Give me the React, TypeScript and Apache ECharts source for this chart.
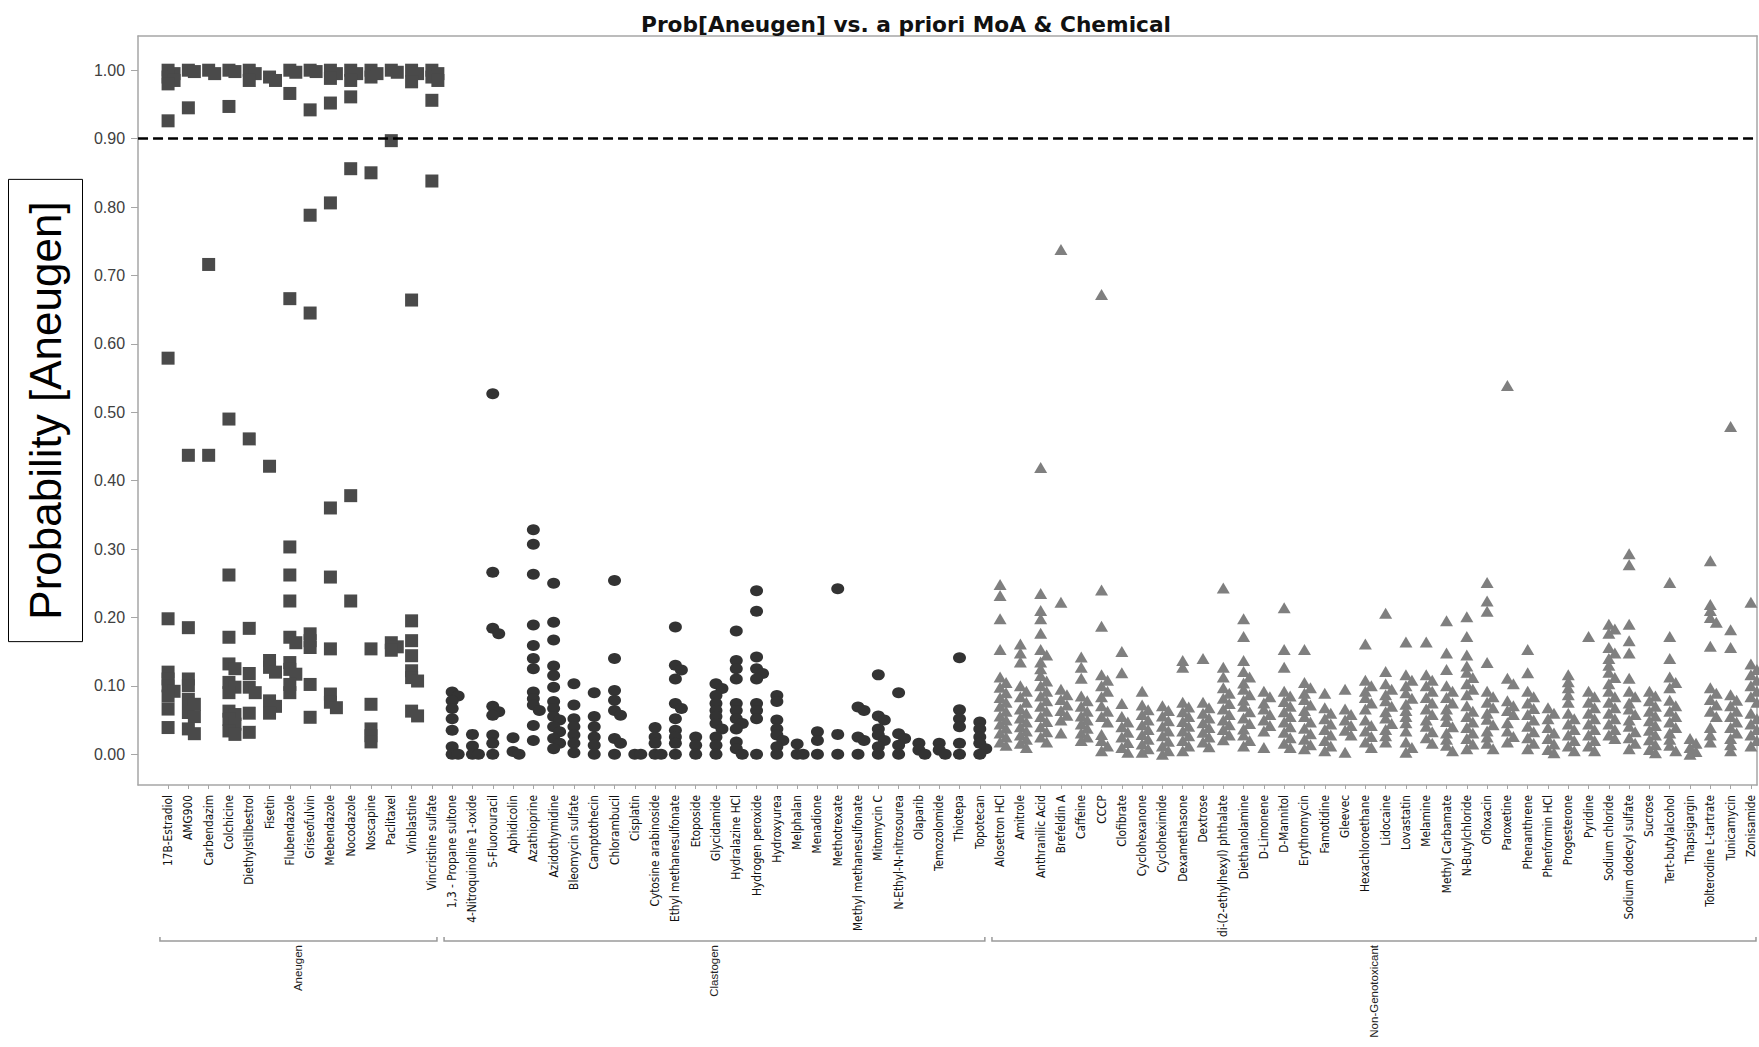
import React, { useEffect, useRef } from "react";
import * as echarts from "echarts";

const chartTitle = "Prob[Aneugen] vs. a priori MoA & Chemical";
const yTitle = "Probability [Aneugen]";
const groupNames = ["Aneugen", "Clastogen", "Non-Genotoxicant"];
const yTicks = [0, 0.1, 0.2, 0.3, 0.4, 0.5, 0.6, 0.7, 0.8, 0.9, 1.0];
const thresholdLine = 0.9;

const aneugenChemicals = [
  "17B-Estradiol", "AMG900", "Carbendazim", "Colchicine", "Diethylstilbestrol", "Fisetin",
  "Flubendazole", "Griseofulvin", "Mebendazole", "Nocodazole", "Noscapine", "Paclitaxel",
  "Vinblastine", "Vincristine sulfate",
];
const aneugenProb = [
  [1.0, 0.995, 0.99, 0.985, 0.98, 0.926, 0.579, 0.198, 0.12, 0.11, 0.1, 0.092, 0.085, 0.066, 0.039],
  [1.0, 0.998, 0.945, 0.437, 0.185, 0.11, 0.1, 0.08, 0.073, 0.061, 0.055, 0.037, 0.03],
  [1.0, 0.995, 0.716, 0.437],
  [1.0, 0.998, 0.947, 0.49, 0.262, 0.171, 0.132, 0.125, 0.105, 0.098, 0.09, 0.063, 0.058, 0.051, 0.044, 0.034, 0.029],
  [1.0, 0.995, 0.985, 0.461, 0.184, 0.118, 0.098, 0.09, 0.06, 0.032],
  [0.99, 0.985, 0.421, 0.137, 0.127, 0.12, 0.078, 0.07, 0.06],
  [1.0, 0.997, 0.966, 0.666, 0.303, 0.262, 0.224, 0.171, 0.163, 0.134, 0.124, 0.117, 0.102, 0.09],
  [1.0, 0.998, 0.942, 0.788, 0.645, 0.176, 0.166, 0.156, 0.102, 0.054],
  [1.0, 0.995, 0.988, 0.952, 0.806, 0.36, 0.259, 0.154, 0.088, 0.076, 0.068],
  [1.0, 0.995, 0.985, 0.961, 0.856, 0.378, 0.224],
  [1.0, 0.995, 0.99, 0.85, 0.154, 0.073, 0.037, 0.027, 0.018],
  [1.0, 0.997, 0.897, 0.163, 0.157, 0.152],
  [1.0, 0.995, 0.983, 0.664, 0.195, 0.166, 0.144, 0.122, 0.112, 0.107, 0.063, 0.056],
  [1.0, 0.995, 0.99, 0.985, 0.956, 0.838],
];

const clastogenChemicals = [
  "1,3 - Propane sultone", "4-Nitroquinoline 1-oxide", "5-Fluorouracil", "Aphidicolin", "Azathioprine",
  "Azidothymidine", "Bleomycin sulfate", "Camptothecin", "Chlorambucil", "Cisplatin",
  "Cytosine arabinoside", "Ethyl methanesulfonate", "Etoposide", "Glycidamide", "Hydralazine HCl",
  "Hydrogen peroxide", "Hydroxyurea", "Melphalan", "Menadione", "Methotrexate",
  "Methyl methanesulfonate", "Mitomycin C", "N-Ethyl-N-nitrosourea", "Olaparib", "Temozolomide",
  "Thiotepa", "Topotecan",
];
const clastogenProb = [
  [0.091, 0.085, 0.078, 0.067, 0.052, 0.035, 0.011, 0.0, 0.0],
  [0.029, 0.012, 0.0, 0.0],
  [0.527, 0.266, 0.184, 0.176, 0.07, 0.062, 0.057, 0.028, 0.016, 0.0],
  [0.024, 0.004, 0.0],
  [0.328, 0.307, 0.263, 0.189, 0.159, 0.14, 0.125, 0.091, 0.081, 0.072, 0.064, 0.042, 0.02],
  [0.25, 0.193, 0.167, 0.129, 0.115, 0.098, 0.077, 0.067, 0.055, 0.05, 0.04, 0.033, 0.023, 0.016, 0.008],
  [0.103, 0.072, 0.052, 0.04, 0.028, 0.016, 0.002],
  [0.09, 0.055, 0.04, 0.025, 0.013, 0.0],
  [0.254, 0.14, 0.093, 0.079, 0.064, 0.057, 0.023, 0.016, 0.0],
  [0.0, 0.0],
  [0.039, 0.025, 0.016, 0.0, 0.0],
  [0.186, 0.13, 0.123, 0.11, 0.074, 0.067, 0.052, 0.035, 0.025, 0.016, 0.0],
  [0.025, 0.013, 0.0],
  [0.103, 0.096, 0.086, 0.074, 0.064, 0.055, 0.045, 0.037, 0.025, 0.013, 0.0],
  [0.18, 0.137, 0.125, 0.11, 0.074, 0.064, 0.052, 0.045, 0.037, 0.018, 0.008, 0.0],
  [0.239, 0.209, 0.142, 0.125, 0.118, 0.11, 0.074, 0.064, 0.052, 0.0],
  [0.086, 0.077, 0.05, 0.037, 0.028, 0.02, 0.011, 0.0],
  [0.015, 0.0, 0.0],
  [0.033, 0.02, 0.0],
  [0.242, 0.029, 0.0],
  [0.069, 0.064, 0.025, 0.02, 0.0],
  [0.116, 0.056, 0.05, 0.037, 0.028, 0.02, 0.011, 0.0],
  [0.09, 0.03, 0.023, 0.013, 0.0],
  [0.016, 0.006, 0.0],
  [0.016, 0.006, 0.0],
  [0.141, 0.065, 0.052, 0.04, 0.016, 0.0],
  [0.047, 0.037, 0.025, 0.016, 0.008, 0.0],
];

const nonGenotoxChemicals = [
  "Alosetron HCl", "Amitrole", "Anthranilic Acid", "Brefeldin A", "Caffeine", "CCCP", "Clofibrate",
  "Cyclohexanone", "Cycloheximide", "Dexamethasone", "Dextrose", "di-(2-ethylhexyl) phthalate",
  "Diethanolamine", "D-Limonene", "D-Mannitol", "Erythromycin", "Famotidine", "Gleevec",
  "Hexachloroethane", "Lidocaine", "Lovastatin", "Melamine", "Methyl Carbamate", "N-Butylchloride",
  "Ofloxacin", "Paroxetine", "Phenanthrene", "Phenformin HCl", "Progesterone", "Pyridine",
  "Sodium chloride", "Sodium dodecyl sulfate", "Sucrose", "Tert-butylalcohol", "Thapsigargin",
  "Tolterodine L-tartrate", "Tunicamycin", "Zonisamide",
];
const nonGenotoxProb = [
  [0.248, 0.232, 0.198, 0.153, 0.113, 0.105, 0.098, 0.09, 0.083, 0.076, 0.07, 0.063, 0.056, 0.05, 0.044, 0.038, 0.031, 0.025, 0.018, 0.013],
  [0.161, 0.148, 0.135, 0.1, 0.092, 0.084, 0.076, 0.066, 0.06, 0.053, 0.047, 0.04, 0.034, 0.028, 0.022, 0.016, 0.01],
  [0.419, 0.235, 0.21, 0.198, 0.177, 0.153, 0.145, 0.135, 0.125, 0.115, 0.107, 0.1, 0.092, 0.085, 0.078, 0.07, 0.063, 0.055, 0.048, 0.04, 0.033, 0.025, 0.018],
  [0.738, 0.222, 0.095, 0.087, 0.08, 0.072, 0.064, 0.057, 0.05, 0.031],
  [0.142, 0.127, 0.111, 0.085, 0.078, 0.07, 0.063, 0.056, 0.05, 0.044, 0.038, 0.031, 0.025, 0.02],
  [0.672, 0.24, 0.187, 0.116, 0.108, 0.1, 0.092, 0.084, 0.071, 0.063, 0.055, 0.047, 0.029, 0.02, 0.012, 0.005],
  [0.15, 0.119, 0.074, 0.055, 0.047, 0.04, 0.032, 0.025, 0.017, 0.01, 0.003],
  [0.092, 0.072, 0.065, 0.058, 0.05, 0.043, 0.036, 0.029, 0.022, 0.015, 0.008, 0.003],
  [0.071, 0.064, 0.056, 0.049, 0.041, 0.034, 0.027, 0.019, 0.012, 0.005, 0.0],
  [0.137, 0.127, 0.076, 0.069, 0.062, 0.055, 0.048, 0.041, 0.034, 0.027, 0.02, 0.012, 0.005],
  [0.14, 0.076, 0.068, 0.06, 0.053, 0.046, 0.039, 0.032, 0.025, 0.018, 0.011],
  [0.243, 0.127, 0.113, 0.097, 0.089, 0.082, 0.074, 0.066, 0.058, 0.05, 0.043, 0.036, 0.028, 0.021],
  [0.198, 0.172, 0.137, 0.121, 0.113, 0.104, 0.095, 0.087, 0.079, 0.07, 0.062, 0.053, 0.045, 0.037, 0.028, 0.02, 0.012],
  [0.092, 0.084, 0.075, 0.066, 0.058, 0.05, 0.042, 0.034, 0.01],
  [0.214, 0.153, 0.127, 0.092, 0.085, 0.077, 0.07, 0.062, 0.055, 0.047, 0.04, 0.032, 0.024, 0.016, 0.01],
  [0.153, 0.105, 0.097, 0.089, 0.08, 0.072, 0.064, 0.055, 0.047, 0.038, 0.03, 0.022, 0.014, 0.008],
  [0.089, 0.068, 0.06, 0.052, 0.044, 0.036, 0.028, 0.02, 0.012, 0.005],
  [0.095, 0.066, 0.058, 0.05, 0.042, 0.035, 0.028, 0.003],
  [0.161, 0.108, 0.1, 0.092, 0.083, 0.075, 0.066, 0.05, 0.042, 0.034, 0.026, 0.018, 0.01],
  [0.206, 0.121, 0.103, 0.095, 0.087, 0.078, 0.07, 0.062, 0.053, 0.045, 0.036, 0.027, 0.018],
  [0.164, 0.116, 0.108, 0.1, 0.09, 0.082, 0.073, 0.064, 0.055, 0.046, 0.034, 0.018, 0.01, 0.003],
  [0.164, 0.116, 0.108, 0.1, 0.092, 0.083, 0.075, 0.066, 0.058, 0.05, 0.041, 0.033, 0.024, 0.016],
  [0.195, 0.148, 0.124, 0.1, 0.092, 0.083, 0.075, 0.066, 0.057, 0.048, 0.04, 0.031, 0.022, 0.013, 0.005],
  [0.201, 0.172, 0.145, 0.129, 0.12, 0.112, 0.103, 0.095, 0.087, 0.071, 0.063, 0.055, 0.047, 0.039, 0.031, 0.023, 0.015, 0.008],
  [0.251, 0.224, 0.209, 0.134, 0.092, 0.084, 0.076, 0.068, 0.06, 0.051, 0.043, 0.034, 0.025, 0.016, 0.008],
  [0.539, 0.111, 0.103, 0.078, 0.071, 0.064, 0.058, 0.046, 0.034, 0.026, 0.018],
  [0.153, 0.119, 0.092, 0.084, 0.075, 0.067, 0.058, 0.05, 0.041, 0.033, 0.024, 0.016, 0.008],
  [0.068, 0.06, 0.052, 0.039, 0.031, 0.023, 0.015, 0.007, 0.002],
  [0.116, 0.106, 0.097, 0.087, 0.076, 0.06, 0.052, 0.044, 0.036, 0.028, 0.02, 0.012, 0.005],
  [0.172, 0.092, 0.084, 0.076, 0.068, 0.06, 0.052, 0.044, 0.036, 0.028, 0.02, 0.012, 0.005],
  [0.19, 0.183, 0.177, 0.156, 0.148, 0.14, 0.13, 0.12, 0.112, 0.103, 0.092, 0.084, 0.076, 0.068, 0.06, 0.052, 0.044, 0.036, 0.028, 0.023],
  [0.293, 0.277, 0.19, 0.166, 0.148, 0.111, 0.092, 0.084, 0.075, 0.066, 0.058, 0.05, 0.041, 0.033, 0.024, 0.016, 0.008],
  [0.092, 0.085, 0.078, 0.07, 0.063, 0.056, 0.049, 0.042, 0.035, 0.028, 0.021, 0.014, 0.007, 0.002],
  [0.251, 0.172, 0.14, 0.113, 0.105, 0.097, 0.079, 0.071, 0.063, 0.055, 0.047, 0.039, 0.031, 0.022, 0.013, 0.005],
  [0.023, 0.016, 0.01, 0.004, 0.0],
  [0.283, 0.219, 0.21, 0.2, 0.193, 0.158, 0.097, 0.089, 0.08, 0.072, 0.063, 0.055, 0.039, 0.028, 0.018],
  [0.479, 0.182, 0.156, 0.087, 0.079, 0.071, 0.063, 0.055, 0.047, 0.039, 0.031, 0.023, 0.014, 0.005],
  [0.222, 0.132, 0.124, 0.116, 0.108, 0.1, 0.092, 0.084, 0.076, 0.06, 0.052, 0.044, 0.036, 0.028, 0.02, 0.012],
];

// layout constants for the deterministic side-by-side (beeswarm) placement
const PX_PER_Y = 684;
const PX_PER_X = 20.33;
const STEP_PX = 3;
const MIN_DX = 4;
const MIN_DY = 6;

function swarm(values: number[], catIndex: number): number[][] {
  const placed: { x: number; y: number }[] = [];
  const out: number[][] = [];
  const sorted = values.slice().sort((a, b) => b - a);
  for (const v of sorted) {
    const ypx = v * PX_PER_Y;
    let off = 0;
    for (let k = 0; k < 30; k++) {
      const cand = k === 0 ? 0 : (k % 2 === 1 ? 1 : -1) * Math.ceil(k / 2) * STEP_PX;
      const ok = placed.every((p) => Math.abs(p.y - ypx) >= MIN_DY || Math.abs(p.x - cand) >= MIN_DX);
      if (ok) {
        off = cand;
        break;
      }
    }
    placed.push({ x: off, y: ypx });
    out.push([catIndex + off / PX_PER_X, v]);
  }
  return out;
}

export default function App() {
  const ref = useRef<HTMLDivElement>(null);

  useEffect(() => {
    if (!ref.current) return;
    const chart = echarts.init(ref.current, null, { renderer: "svg" });
    const allChems = [...aneugenChemicals, ...clastogenChemicals, ...nonGenotoxChemicals];
    const catIdx = allChems.map((_, i) => i);

    const groups = [
      { name: groupNames[0], chems: aneugenChemicals, probs: aneugenProb, symbol: "rect", size: [13, 13], color: "#4a4a4a" },
      { name: groupNames[1], chems: clastogenChemicals, probs: clastogenProb, symbol: "circle", size: [13, 11], color: "#333333" },
      { name: groupNames[2], chems: nonGenotoxChemicals, probs: nonGenotoxProb, symbol: "triangle", size: [13, 11], color: "#7f7f7f" },
    ];
    let start = 0;
    const ranges: { name: string; s: number; e: number }[] = [];
    const series: any[] = groups.map((g, gi) => {
      const data: number[][] = [];
      g.probs.forEach((vals, i) => {
        data.push(...swarm(vals, start + i));
      });
      ranges.push({ name: g.name, s: start, e: start + g.chems.length - 1 });
      start += g.chems.length;
      const s: any = {
        name: g.name,
        type: "scatter",
        data,
        symbol: g.symbol,
        symbolSize: g.size,
        itemStyle: { color: g.color, opacity: 1 },
        silent: true,
      };
      if (gi === 0) {
        s.markLine = {
          silent: true,
          symbol: ["none", "none"],
          label: { show: false },
          lineStyle: { color: "#000", type: [10, 5], width: 2.5 },
          data: [{ yAxis: thresholdLine }],
        };
      }
      return s;
    });

    const xMin = -1.48;
    const xMax = 78.3;
    const frameColor = "#a6a6a6";
    const narrowFont = "'Liberation Sans Narrow', 'DejaVu Sans Condensed', sans-serif";

    chart.setOption({
      animation: false,
      title: {
        text: chartTitle,
        left: 636,
        top: 8,
        textStyle: { fontFamily: "DejaVu Sans", fontWeight: "bold", fontSize: 21.7, color: "#111" },
      },
      grid: { left: 135, right: 2, top: 36, bottom: 262 },
      xAxis: [
        {
          type: "value",
          min: xMin,
          max: xMax,
          splitLine: { show: false },
          axisLine: { show: true, onZero: false, lineStyle: { color: frameColor, width: 1.5 } },
          axisTick: { show: true, customValues: catIdx, length: 4, lineStyle: { color: frameColor } },
          axisLabel: {
            customValues: catIdx,
            rotate: 90,
            margin: 10,
            fontSize: 11.8,
            fontFamily: narrowFont,
            color: "#111",
            formatter: (v: number) => allChems[Math.round(v)] || "",
          },
        },
        {
          type: "value",
          position: "top",
          min: xMin,
          max: xMax,
          splitLine: { show: false },
          axisLine: { show: true, onZero: false, lineStyle: { color: frameColor, width: 1.5 } },
          axisTick: { show: false },
          axisLabel: { show: false },
        },
      ],
      yAxis: [
        {
          type: "value",
          min: -0.045,
          max: 1.05,
          splitLine: { show: false },
          axisLine: { show: true, onZero: false, lineStyle: { color: frameColor, width: 1.5 } },
          axisTick: { show: true, customValues: yTicks, length: 7, lineStyle: { color: frameColor } },
          axisLabel: {
            customValues: yTicks,
            formatter: (v: number) => v.toFixed(2),
            fontSize: 16,
            fontFamily: "'Liberation Sans', Arial, sans-serif",
            color: "#404040",
            margin: 13,
          },
          name: yTitle,
          nameLocation: "middle",
          nameGap: 51,
          nameTextStyle: {
            fontSize: 44,
            fontFamily: "'Liberation Sans', Arial, sans-serif",
            color: "#000",
            borderColor: "#000",
            borderWidth: 1,
            lineHeight: 46,
            padding: [14, 22, 14, 22],
          },
        },
        {
          type: "value",
          position: "right",
          min: -0.045,
          max: 1.05,
          splitLine: { show: false },
          axisLine: { show: true, onZero: false, lineStyle: { color: frameColor, width: 1.5 } },
          axisTick: { show: false },
          axisLabel: { show: false },
        },
      ],
      series,
    });

    const bracketY = 941;
    const gfx: any[] = [];
    ranges.forEach((r) => {
      const x0 = chart.convertToPixel({ xAxisIndex: 0 }, r.s - 0.4) as number;
      const x1 = chart.convertToPixel({ xAxisIndex: 0 }, r.e + 0.25) as number;
      gfx.push({
        type: "polyline",
        silent: true,
        shape: { points: [[x0, bracketY - 4], [x0, bracketY], [x1, bracketY], [x1, bracketY - 4]] },
        style: { stroke: "#9a9a9a", lineWidth: 1.5, fill: null },
      });
      gfx.push({
        type: "text",
        silent: true,
        x: (x0 + x1) / 2,
        y: bracketY + 4,
        rotation: Math.PI / 2,
        style: {
          text: r.name,
          fontSize: 11.5,
          fontFamily: "'Liberation Sans', Arial, sans-serif",
          fill: "#222",
          align: "right",
          verticalAlign: "middle",
        },
      });
    });
    chart.setOption({ graphic: gfx });

    return () => chart.dispose();
  }, []);

  return (
    <div
      ref={ref}
      style={{ position: "absolute", left: 0, top: 0, width: 1759, height: 1047, background: "#fff" }}
    />
  );
}
